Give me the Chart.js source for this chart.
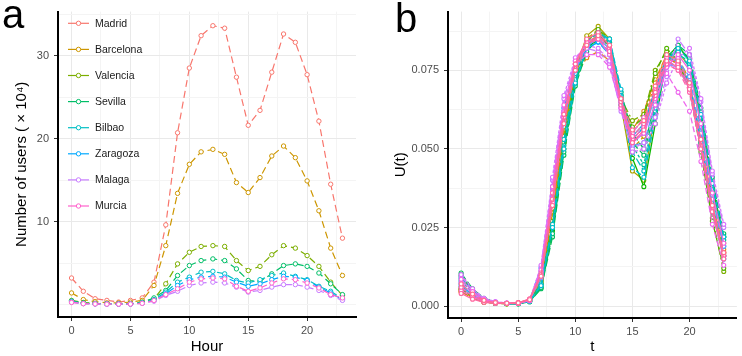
<!DOCTYPE html>
<html>
<head>
<meta charset="utf-8">
<script src="https://cdn.jsdelivr.net/npm/chart.js@4.4.1/dist/chart.umd.min.js"></script>
<style>
  html, body { margin: 0; padding: 0; background: #fff; }
  #wrap { position: relative; width: 742px; height: 356px; }
  #chartA { position: absolute; left: 0; top: 0; }
  #chartB { position: absolute; left: 370px; top: 0; }
</style>
</head>
<body>
<div id="wrap">
  <canvas id="chartA" width="370" height="356"></canvas>
  <canvas id="chartB" width="372" height="356"></canvas>
</div>
<script>
// Datos panel a: usuarios por hora (x 10^4)
var hours = [0, 1, 2, 3, 4, 5, 6, 7, 8, 9, 10, 11, 12, 13, 14, 15, 16, 17, 18, 19, 20, 21, 22, 23];
var cities = ["Madrid", "Barcelona", "Valencia", "Sevilla", "Bilbao", "Zaragoza", "Malaga", "Murcia"];
var madrid = [3.2, 1.6, 0.7, 0.5, 0.3, 0.5, 0.8, 2.7, 9.6, 20.7, 28.5, 32.4, 33.6, 33.3, 27.4, 21.6, 23.4, 28.0, 32.6, 31.6, 27.7, 22.1, 14.5, 8.0];
var barcelona = [1.4, 0.6, 0.35, 0.2, 0.2, 0.3, 0.5, 2.3, 7.1, 13.4, 16.9, 18.4, 18.7, 18.1, 14.7, 13.5, 15.3, 17.9, 19.1, 17.7, 14.9, 11.3, 6.8, 3.5];
var valencia = [0.5, 0.25, 0.15, 0.1, 0.1, 0.1, 0.3, 0.7, 2.5, 4.9, 6.3, 7.0, 7.1, 7.0, 5.3, 4.1, 4.6, 6.0, 7.1, 6.8, 5.9, 4.6, 2.7, 1.1];
var sevilla = [0.45, 0.2, 0.12, 0.1, 0.08, 0.1, 0.25, 0.8, 1.7, 3.5, 4.7, 5.3, 5.5, 5.3, 4.3, 2.9, 2.8, 3.7, 4.7, 4.9, 4.6, 3.8, 2.5, 1.2];
var bilbao = [0.35, 0.15, 0.1, 0.08, 0.06, 0.08, 0.2, 0.6, 1.5, 2.7, 3.3, 3.9, 4.0, 3.7, 2.9, 2.6, 3.0, 3.5, 3.8, 3.4, 3.0, 2.2, 1.6, 0.7];
var zaragoza = [0.3, 0.12, 0.08, 0.06, 0.05, 0.07, 0.18, 0.5, 1.3, 2.3, 3.0, 3.3, 3.4, 3.3, 2.7, 2.2, 2.5, 3.0, 3.4, 3.3, 2.9, 2.1, 1.4, 0.6];
var malaga = [0.3, 0.12, 0.08, 0.06, 0.05, 0.06, 0.15, 0.4, 1.1, 1.6, 2.3, 2.6, 2.7, 2.6, 2.1, 1.5, 1.7, 2.1, 2.4, 2.4, 2.1, 1.7, 1.1, 0.5];
var murcia = [0.25, 0.1, 0.07, 0.05, 0.05, 0.06, 0.15, 0.5, 1.2, 1.9, 2.7, 3.1, 3.2, 3.1, 2.2, 1.6, 2.0, 2.6, 3.1, 3.0, 2.6, 2.0, 1.2, 0.8];
var cityValues = [madrid, barcelona, valencia, sevilla, bilbao, zaragoza, malaga, murcia];

// Datos panel b: U(t) de cada curva
var curvasU = [
  [0.0045, 0.0025, 0.0013, 0.0009, 0.0008, 0.0010, 0.0020, 0.0085, 0.030, 0.058, 0.076, 0.084, 0.086, 0.083, 0.066, 0.052, 0.056, 0.068, 0.080, 0.077, 0.070, 0.052, 0.032, 0.017],
  [0.0050, 0.0027, 0.0014, 0.0010, 0.0008, 0.0009, 0.0020, 0.0090, 0.031, 0.057, 0.075, 0.083, 0.086, 0.083, 0.065, 0.053, 0.057, 0.069, 0.079, 0.077, 0.070, 0.051, 0.031, 0.016],
  [0.0050, 0.0028, 0.0014, 0.0010, 0.0008, 0.0009, 0.0019, 0.0080, 0.028, 0.055, 0.073, 0.079, 0.081, 0.078, 0.065, 0.056, 0.062, 0.072, 0.080, 0.079, 0.072, 0.053, 0.033, 0.018],
  [0.0045, 0.0026, 0.0013, 0.0009, 0.0008, 0.0009, 0.0019, 0.0085, 0.030, 0.056, 0.074, 0.082, 0.085, 0.082, 0.066, 0.055, 0.060, 0.071, 0.080, 0.078, 0.071, 0.052, 0.032, 0.017],
  [0.0055, 0.0030, 0.0015, 0.0010, 0.0009, 0.0010, 0.0020, 0.0090, 0.031, 0.057, 0.075, 0.085, 0.088, 0.084, 0.066, 0.050, 0.054, 0.069, 0.079, 0.077, 0.070, 0.051, 0.031, 0.016],
  [0.0060, 0.0032, 0.0016, 0.0010, 0.0008, 0.0009, 0.0018, 0.0070, 0.026, 0.054, 0.075, 0.086, 0.089, 0.085, 0.064, 0.043, 0.040, 0.062, 0.079, 0.081, 0.076, 0.058, 0.036, 0.020],
  [0.0050, 0.0027, 0.0013, 0.0009, 0.0007, 0.0008, 0.0017, 0.0075, 0.027, 0.052, 0.072, 0.083, 0.087, 0.084, 0.066, 0.059, 0.061, 0.075, 0.081, 0.078, 0.070, 0.050, 0.028, 0.011],
  [0.0055, 0.0030, 0.0014, 0.0009, 0.0007, 0.0008, 0.0016, 0.0070, 0.026, 0.052, 0.073, 0.084, 0.088, 0.085, 0.066, 0.057, 0.060, 0.074, 0.082, 0.078, 0.069, 0.049, 0.027, 0.012],
  [0.0095, 0.0050, 0.0022, 0.0012, 0.0008, 0.0008, 0.0015, 0.0060, 0.024, 0.050, 0.071, 0.082, 0.085, 0.084, 0.067, 0.047, 0.038, 0.058, 0.079, 0.083, 0.078, 0.060, 0.038, 0.022],
  [0.0105, 0.0055, 0.0025, 0.0012, 0.0008, 0.0007, 0.0014, 0.0055, 0.022, 0.048, 0.070, 0.081, 0.085, 0.083, 0.068, 0.055, 0.050, 0.065, 0.078, 0.082, 0.079, 0.062, 0.040, 0.023],
  [0.0100, 0.0053, 0.0024, 0.0012, 0.0008, 0.0007, 0.0014, 0.0058, 0.023, 0.049, 0.071, 0.082, 0.086, 0.084, 0.067, 0.052, 0.048, 0.063, 0.079, 0.083, 0.080, 0.063, 0.041, 0.022],
  [0.0080, 0.0045, 0.0020, 0.0011, 0.0008, 0.0008, 0.0016, 0.0065, 0.025, 0.051, 0.072, 0.083, 0.086, 0.084, 0.068, 0.051, 0.045, 0.062, 0.078, 0.081, 0.077, 0.060, 0.037, 0.021],
  [0.0085, 0.0048, 0.0021, 0.0011, 0.0008, 0.0008, 0.0016, 0.0070, 0.026, 0.053, 0.074, 0.084, 0.087, 0.085, 0.067, 0.049, 0.043, 0.063, 0.079, 0.081, 0.076, 0.057, 0.035, 0.019],
  [0.0090, 0.0050, 0.0022, 0.0012, 0.0008, 0.0008, 0.0015, 0.0065, 0.025, 0.050, 0.071, 0.082, 0.086, 0.085, 0.069, 0.044, 0.041, 0.060, 0.078, 0.082, 0.078, 0.061, 0.039, 0.022],
  [0.0065, 0.0035, 0.0017, 0.0010, 0.0008, 0.0009, 0.0019, 0.0100, 0.035, 0.060, 0.075, 0.082, 0.084, 0.081, 0.065, 0.054, 0.058, 0.069, 0.079, 0.078, 0.071, 0.052, 0.031, 0.016],
  [0.0070, 0.0038, 0.0018, 0.0010, 0.0008, 0.0009, 0.0020, 0.0120, 0.038, 0.063, 0.076, 0.082, 0.084, 0.080, 0.064, 0.053, 0.057, 0.068, 0.078, 0.076, 0.070, 0.051, 0.030, 0.015],
  [0.0075, 0.0040, 0.0019, 0.0011, 0.0008, 0.0008, 0.0017, 0.0110, 0.037, 0.062, 0.076, 0.083, 0.085, 0.082, 0.066, 0.051, 0.052, 0.064, 0.076, 0.078, 0.073, 0.055, 0.034, 0.019],
  [0.0060, 0.0033, 0.0016, 0.0010, 0.0008, 0.0009, 0.0019, 0.0090, 0.033, 0.059, 0.075, 0.083, 0.085, 0.082, 0.065, 0.052, 0.055, 0.067, 0.077, 0.076, 0.069, 0.050, 0.030, 0.016],
  [0.0095, 0.0052, 0.0024, 0.0013, 0.0009, 0.0009, 0.0018, 0.0125, 0.040, 0.066, 0.078, 0.082, 0.081, 0.077, 0.062, 0.050, 0.052, 0.060, 0.073, 0.085, 0.080, 0.065, 0.042, 0.025],
  [0.0100, 0.0055, 0.0025, 0.0014, 0.0010, 0.0009, 0.0017, 0.0130, 0.041, 0.067, 0.079, 0.083, 0.082, 0.078, 0.063, 0.049, 0.050, 0.058, 0.071, 0.079, 0.082, 0.066, 0.043, 0.026],
  [0.0075, 0.0040, 0.0019, 0.0011, 0.0009, 0.0010, 0.0021, 0.0110, 0.036, 0.062, 0.077, 0.080, 0.080, 0.076, 0.063, 0.055, 0.060, 0.066, 0.074, 0.068, 0.062, 0.046, 0.026, 0.013],
  [0.0085, 0.0046, 0.0021, 0.0012, 0.0009, 0.0009, 0.0018, 0.0115, 0.038, 0.064, 0.078, 0.084, 0.085, 0.080, 0.063, 0.052, 0.055, 0.064, 0.076, 0.080, 0.075, 0.058, 0.036, 0.020],
  [0.0050, 0.0028, 0.0014, 0.0010, 0.0009, 0.0010, 0.0022, 0.0095, 0.033, 0.060, 0.076, 0.084, 0.086, 0.082, 0.066, 0.053, 0.057, 0.069, 0.079, 0.077, 0.070, 0.051, 0.031, 0.016],
  [0.0060, 0.0032, 0.0016, 0.0011, 0.0009, 0.0010, 0.0021, 0.0105, 0.036, 0.061, 0.077, 0.083, 0.085, 0.081, 0.064, 0.054, 0.058, 0.067, 0.077, 0.075, 0.068, 0.050, 0.030, 0.016],
  [0.0040, 0.0022, 0.0012, 0.0009, 0.0008, 0.0010, 0.0023, 0.0100, 0.034, 0.061, 0.077, 0.085, 0.087, 0.083, 0.065, 0.052, 0.056, 0.068, 0.078, 0.076, 0.069, 0.050, 0.030, 0.015],
  [0.0070, 0.0038, 0.0018, 0.0011, 0.0009, 0.0010, 0.0020, 0.0095, 0.032, 0.058, 0.075, 0.083, 0.086, 0.083, 0.066, 0.056, 0.059, 0.070, 0.080, 0.078, 0.071, 0.053, 0.032, 0.017]
];

// Ticks
var xTicks = [0, 2.5, 5, 7.5, 10, 12.5, 15, 17.5, 20, 22.5];
var xLabels = [0, 5, 10, 15, 20];
var yTicksA = [0, 5, 10, 15, 20, 25, 30, 35];
var yLabelsA = [10, 20, 30];
var yTicksB = [0, 0.0125, 0.025, 0.0375, 0.05, 0.0625, 0.075, 0.0875];
var yLabelsB = [0, 0.025, 0.05, 0.075];

// Estilos
var cityColors = ["#F8766D", "#CD9600", "#7CAE00", "#00BE67", "#00BFC4", "#00A9FF", "#C77CFF", "#FF61CC"];
var curveColors = ["#F8766D", "#F07F48", "#E68613", "#DA8F00", "#CD9600", "#ABA300", "#7CAE00", "#52B400",
  "#0CB702", "#00BC56", "#00BE67", "#00C19A", "#00BFC4", "#00BDD4", "#00B8E7", "#00A9FF",
  "#619CFF", "#8494FF", "#C77CFF", "#D874FD", "#ED68ED", "#F564E3", "#FF61CC", "#FF64B0", "#FF68A1", "#FF6C91"];
var curveDashes = [[6, 3], [], [8, 3], [3, 2], [6, 3], [], [8, 3, 2, 3], [6, 3], [], [8, 3], [6, 3], [3, 2], [8, 3],
  [6, 3], [], [8, 3], [6, 3], [], [8, 3], [3, 2], [6, 3], [], [8, 3, 2, 3], [6, 3], [], [8, 3]];

var majorGrid = "#e9e9e9";
var minorGrid = "#f4f4f4";

Chart.defaults.font.family = '"Liberation Sans", Arial, sans-serif';
Chart.defaults.color = "#4d4d4d";

function toPoints(values) {
  return values.map(function (v, i) {
    return { x: hours[i], y: v };
  });
}

function isIn(list, v) {
  for (var i = 0; i < list.length; i++) {
    if (Math.abs(list[i] - v) < 1e-9) return true;
  }
  return false;
}

function makeScales(yMin, yMax, yTicks, yLabels, yTitle, yTitlePad, yWidth, xHeight, xTitle, fmt) {
  return {
    x: {
      type: "linear",
      min: -1.15,
      max: 24.15,
      afterBuildTicks: function (s) {
        s.ticks = xTicks.map(function (v) { return { value: v }; });
      },
      afterFit: function (s) { s.height = xHeight; },
      grid: {
        color: function (c) { return c.tick && isIn(xLabels, c.tick.value) ? majorGrid : minorGrid; },
        tickColor: function (c) { return c.tick && isIn(xLabels, c.tick.value) ? "#333" : "rgba(0,0,0,0)"; },
        tickLength: 4,
        lineWidth: 1
      },
      border: { color: "#000", width: 2 },
      ticks: {
        autoSkip: false,
        maxRotation: 0,
        padding: 3,
        color: "#4d4d4d",
        font: { size: 11 },
        callback: function (v) { return isIn(xLabels, v) ? String(v) : ""; }
      },
      title: { display: true, text: xTitle, color: "#000", font: { size: 15 }, padding: { top: 0, bottom: 0 } }
    },
    y: {
      type: "linear",
      min: yMin,
      max: yMax,
      afterBuildTicks: function (s) {
        s.ticks = yTicks.map(function (v) { return { value: v }; });
      },
      afterFit: function (s) { s.width = yWidth; },
      grid: {
        color: function (c) { return c.tick && isIn(yLabels, c.tick.value) ? majorGrid : minorGrid; },
        tickColor: function (c) { return c.tick && isIn(yLabels, c.tick.value) ? "#333" : "rgba(0,0,0,0)"; },
        tickLength: 4,
        lineWidth: 1
      },
      border: { color: "#000", width: 2 },
      ticks: {
        autoSkip: false,
        padding: 5,
        color: "#4d4d4d",
        font: { size: 11 },
        callback: function (v) { return isIn(yLabels, v) ? fmt(v) : ""; }
      },
      title: { display: true, text: yTitle, color: "#000", font: { size: 15 }, padding: { top: yTitlePad, bottom: 0 } }
    }
  };
}

// Letra del panel
function panelLabel(letter, x, y) {
  return {
    id: "panelLabel",
    afterDraw: function (chart) {
      var ctx = chart.ctx;
      ctx.save();
      ctx.fillStyle = "#000";
      ctx.font = '40px "Liberation Sans", Arial, sans-serif';
      ctx.textBaseline = "alphabetic";
      ctx.fillText(letter, x, y);
      ctx.restore();
    }
  };
}

// Leyenda dentro del panel a
var legendA = {
  id: "legendA",
  afterDraw: function (chart) {
    var ctx = chart.ctx;
    ctx.save();
    chart.data.datasets.forEach(function (ds, i) {
      var y = 23.3 + i * 26.1;
      ctx.strokeStyle = ds.borderColor;
      ctx.lineWidth = 1.2;
      ctx.setLineDash([]);
      ctx.beginPath();
      ctx.moveTo(68, y);
      ctx.lineTo(89, y);
      ctx.stroke();
      ctx.fillStyle = "#fff";
      ctx.beginPath();
      ctx.arc(78.5, y, 2.2, 0, Math.PI * 2);
      ctx.fill();
      ctx.lineWidth = 1;
      ctx.stroke();
      ctx.fillStyle = "#1a1a1a";
      ctx.font = '10.5px "Liberation Sans", Arial, sans-serif';
      ctx.textBaseline = "middle";
      ctx.fillText(ds.label, 95, y + 0.5);
    });
    ctx.restore();
  }
};

var datasetsA = cities.map(function (name, i) {
  return {
    label: name,
    data: toPoints(cityValues[i]),
    borderColor: cityColors[i],
    backgroundColor: "#fff",
    borderWidth: 1.2,
    borderDash: [7, 4],
    pointRadius: 2.2,
    pointBorderWidth: 1,
    pointBackgroundColor: "#fff",
    pointBorderColor: cityColors[i],
    tension: 0,
    order: cities.length - i
  };
});

var datasetsB = curvasU.map(function (vals, i) {
  return {
    label: "U" + (i + 1),
    data: toPoints(vals),
    borderColor: curveColors[i],
    backgroundColor: "#fff",
    borderWidth: 1.3,
    borderDash: curveDashes[i],
    pointRadius: 2,
    pointBorderWidth: 1.1,
    pointBackgroundColor: "#fff",
    pointBorderColor: curveColors[i],
    tension: 0,
    order: curvasU.length - i
  };
});

var chartA = new Chart(document.getElementById("chartA"), {
  type: "line",
  data: { datasets: datasetsA },
  options: {
    responsive: false,
    animation: false,
    devicePixelRatio: 1,
    layout: { padding: { left: 0, top: 8, right: 14, bottom: 0 } },
    scales: makeScales(-1.5, 35.3, yTicksA, yLabelsA, "Number of users ( \u00d7 10\u2074)", 13, 58, 39, "Hour",
      function (v) { return String(v); }),
    plugins: { legend: { display: false }, tooltip: { enabled: false } }
  },
  plugins: [legendA, panelLabel("a", 2, 28)]
});

var chartB = new Chart(document.getElementById("chartB"), {
  type: "line",
  data: { datasets: datasetsB },
  options: {
    responsive: false,
    animation: false,
    devicePixelRatio: 1,
    layout: { padding: { left: 0, top: 8, right: 4, bottom: 0 } },
    scales: makeScales(-0.0038, 0.0937, yTicksB, yLabelsB, "U(t)", 22, 78, 38, "t",
      function (v) { return v.toFixed(3); }),
    plugins: { legend: { display: false }, tooltip: { enabled: false } }
  },
  plugins: [panelLabel("b", 25, 32)]
});
</script>
</body>
</html>
